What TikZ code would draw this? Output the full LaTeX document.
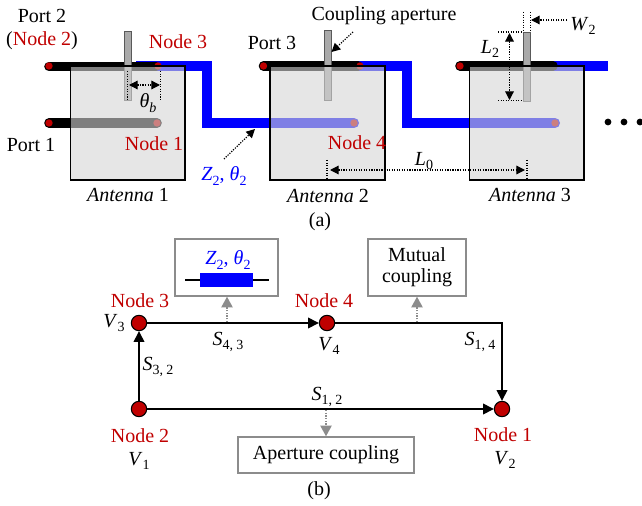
\documentclass[tikz,border=0pt]{standalone}
\usepackage{fontspec}
\setmainfont{Liberation Serif}
\usetikzlibrary{arrows.meta,calc}
\definecolor{nodered}{RGB}{192,0,0}
\definecolor{fblue}{RGB}{0,0,255}
\definecolor{boxgray}{RGB}{140,140,140}
\definecolor{apgray}{RGB}{170,170,170}
\definecolor{patchgray}{RGB}{213,213,213}
\newcommand{\sbs}[1]{\raisebox{-0.24em}{\fontsize{10.5}{11}\selectfont #1}}
\newcommand{\ivar}[2]{\textit{#1}\sbs{#2}}
\tikzset{
  x=0.75pt,y=-0.75pt,
  txt/.style={font=\fontsize{15}{17}\selectfont,inner sep=0pt,align=center},
  redtxt/.style={txt,text=nodered},
  bluetxt/.style={txt,text=fblue},
  feedblack/.style={draw=black,line width=7.2pt},
  feedblue/.style={draw=fblue,line width=7.5pt,line join=miter},
  enddot/.style={circle,fill=nodered,inner sep=0pt,minimum size=5.5pt},
  patch/.style={fill=patchgray,fill opacity=.6,draw=black,line width=.8pt},
  aper/.style={fill=apgray,draw=black!65,line width=.7pt},
  dim/.style={densely dotted,line width=.9pt},
  dimarrow/.style={dim,-{Triangle[length=6.5pt,width=6.5pt]}},
  dimboth/.style={dim,{Triangle[length=6.5pt,width=6.5pt]}-{Triangle[length=6.5pt,width=6.5pt]}},
  graph node/.style={circle,fill=nodered,draw=black,line width=.8pt,inner sep=0pt,minimum size=11.5pt},
  flow/.style={draw=black,line width=1pt,-{Triangle[length=8pt,width=8pt]}},
  grayarrow/.style={draw=boxgray,densely dotted,line width=1pt,-{Triangle[length=8pt,width=8.5pt]}},
  graybox/.style={draw=boxgray,line width=1.1pt,fill=white},
}
\begin{document}
\begin{tikzpicture}
\useasboundingbox (0,0) rectangle (642,506);
% feeds antenna 1
\draw[feedblue] (136,66) -- (207,66) -- (207,123) -- (354,123);
\draw[feedblue,line cap=round] (350,123) -- (354,123);
\draw[feedblack,line cap=round] (49,123) -- (157,123);
\draw[feedblack,line cap=round] (49,66.5) -- (156,66.5);
% feeds antenna 2
\draw[feedblue] (358,66) -- (407,66) -- (407,123) -- (555,123);
\draw[feedblue,line cap=round] (551,123) -- (555,123);
\draw[feedblack,line cap=round] (263.5,66) -- (358,66);
% feeds antenna 3
\draw[feedblue] (553,66) -- (608,66);
\draw[feedblack,line cap=round] (460,66) -- (553,66);
% end dots
\node[enddot] (d1) at (49,66) {};
\node[enddot] (d2) at (49,123) {};
\node[enddot] (d3) at (158,66) {};
\node[enddot] (d4) at (157,123) {};
\node[enddot] (d5) at (263.5,66) {};
\node[enddot] (d6) at (360,66) {};
\node[enddot] (d7) at (354,123) {};
\node[enddot] (d8) at (460,66) {};
\node[enddot] (d9) at (555,123) {};
% apertures
\draw[aper] (124.7,31) rectangle (131,100);
\draw[aper] (324.3,30.5) rectangle (331,100);
\draw[aper] (523.5,32) rectangle (530.5,101);
% patches
\draw[patch] (70.5,66) rectangle (185,180);
\draw[patch] (270,66) rectangle (385,180);
\draw[patch] (469.7,66) rectangle (584,180);
% dims antenna 1
\coordinate (tb1a) at (127.5,71); \coordinate (tb1b) at (127.5,100);
\coordinate (tb2a) at (160.5,71); \coordinate (tb2b) at (160.5,100);
\coordinate (tb3) at (129,85); \coordinate (tb4) at (160,85);
\draw[dim] (tb1a) -- (tb1b);
\draw[dim] (tb2a) -- (tb2b);
\draw[dimboth] (tb3) -- (tb4);
% L0
\coordinate (l0a) at (327,160); \coordinate (l0b) at (327,178);
\coordinate (l0c) at (527,160); \coordinate (l0d) at (527,178);
\coordinate (l0e) at (330,170); \coordinate (l0f) at (525,170);
\draw[dim] (l0a) -- (l0b);
\draw[dim] (l0c) -- (l0d);
\draw[dimboth] (l0e) -- (l0f);
% W2
\coordinate (w1a) at (523.5,12); \coordinate (w1b) at (523.5,31);
\coordinate (w2a) at (530.5,12); \coordinate (w2b) at (530.5,31);
\coordinate (w3) at (567,20); \coordinate (w4) at (531,20);
\draw[dim] (w1a) -- (w1b);
\draw[dim] (w2a) -- (w2b);
\draw[dimarrow] (w3) -- (w4);
% L2
\coordinate (lt1) at (498,32); \coordinate (lt2) at (523,32);
\coordinate (lb1) at (498,100.5); \coordinate (lb2) at (523,100.5);
\coordinate (lv1) at (509.5,33); \coordinate (lv2) at (509.5,100);
\draw[dim] (lt1) -- (lt2);
\draw[dim] (lb1) -- (lb2);
\draw[dimboth] (lv1) -- (lv2);
% pointer arrows
\coordinate (ca1) at (353,32); \coordinate (ca2) at (331.5,52);
\draw[dimarrow] (ca1) -- (ca2);
\coordinate (z1) at (224,159); \coordinate (z2) at (255,129);
\draw[dimarrow] (z1) -- (z2);
% ellipsis
\fill (608,122) circle (3.4) (624,122) circle (3.4) (640,122) circle (3.4);
% labels (a)
\node[txt] (port2) at (42,16) {Port 2};
\node[txt] (pn2) at (42,41) {(\textcolor{nodered}{Node 2})};
\node[redtxt] (n3a) at (178,42) {Node 3};
\node[txt] (port1) at (31,145) {Port 1};
\node[redtxt] (n1a) at (154,144) {Node 1};
\node[txt] (tb) at (148,103) {\ivar{θ}{\textit{b}}};
\node[txt] (an1) at (128,195) {\textit{Antenna} 1};
\node[bluetxt] (zl) at (224,176) {\ivar{Z}{2}, \ivar{θ}{2}};
\node[txt] (ca) at (384,16) {Coupling aperture};
\node[txt] (port3) at (272,43) {Port 3};
\node[redtxt] (n4a) at (357,143) {Node 4};
\node[txt] (an2) at (328,196) {\textit{Antenna} 2};
\node[txt] (an3) at (530,195) {\textit{Antenna} 3};
\node[txt] (l0) at (424,161) {\ivar{L}{0}};
\node[txt] (w2) at (583,26) {\ivar{W}{2}};
\node[txt] (l2) at (490,49) {\ivar{L}{2}};
\node[txt] (capa) at (320,222) {(a)};
% part b
\node[graph node] (N3) at (139,323) {};
\node[graph node] (N4) at (327,323) {};
\node[graph node] (N2) at (139,409) {};
\node[graph node] (N1) at (502,409) {};
\draw[flow] (N2) -- (N3);
\draw[flow] (N3) -- (N4);
\draw[flow] (N2) -- (N1);
\draw[flow] (N4) -| (N1);
% boxes
\node[graybox,inner sep=0pt,minimum width=77pt,minimum height=42.75pt] (zbox) at (226.5,267.5) {};
\node[bluetxt] (zt) at (228,260) {\ivar{Z}{2}, \ivar{θ}{2}};
\coordinate (zl1) at (185,280); \coordinate (zl2) at (269,280);
\draw[line width=.9pt] (zl1) -- (zl2);
\fill[fblue] (200,273) rectangle (253,287);
\node[txt,graybox,minimum width=73.75pt,minimum height=42.75pt] (mbox) at (417,267.5) {Mutual\\[-1.5pt]coupling};
\node[txt,graybox,minimum width=131.75pt,minimum height=27pt] (abox) at (326,455) {Aperture coupling};
% gray arrows
\coordinate (g1) at (227,322);
\coordinate (g2) at (417,322);
\coordinate (g3) at (326,410);
\draw[grayarrow] (g1) -- (zbox.south -| g1);
\draw[grayarrow] (g2) -- (mbox.south -| g2);
\draw[grayarrow] (g3) -- (abox.north -| g3);
% labels (b)
\node[redtxt] (n3b) at (140,301) {Node 3};
\node[redtxt] (n4b) at (324,301) {Node 4};
\node[redtxt] (n2b) at (140,436) {Node 2};
\node[redtxt] (n1b) at (503,435) {Node 1};
\node[txt] (v3) at (114,323) {\ivar{V}{3}};
\node[txt] (v4) at (329,346) {\ivar{V}{4}};
\node[txt] (v1) at (139,461) {\ivar{V}{1}};
\node[txt] (v2) at (505,460) {\ivar{V}{2}};
\node[txt] (s43) at (228,342) {\ivar{S}{4, 3}};
\node[txt] (s32) at (158,367) {\ivar{S}{3, 2}};
\node[txt] (s12) at (327,397) {\ivar{S}{1, 2}};
\node[txt] (s14) at (480,342) {\ivar{S}{1, 4}};
\node[txt] (capb) at (319,491) {(b)};
\end{tikzpicture}
\end{document}
